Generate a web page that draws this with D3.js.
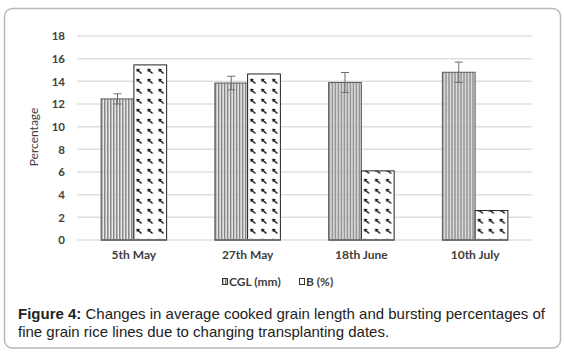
<!DOCTYPE html>
<html>
<head>
<meta charset="utf-8">
<script src="https://cdn.jsdelivr.net/npm/d3@7"></script>
<style>
    body { margin: 0; background: #fff; }
    #chart-area { width: 564px; height: 356px; }
</style>
</head>
<body>
<div id="chart-area"></div>
<script>

// data
let dates = ["5th May", "27th May", "18th June", "10th July"];
let seriesNames = ["CGL (mm)", "B (%)"];
let cglValues = [12.45, 13.85, 13.9, 14.8];
let cglErrors = [0.45, 0.6, 0.88, 0.9];
let bValues = [15.45, 14.65, 6.1, 2.6];
let yTicks = [0, 2, 4, 6, 8, 10, 12, 14, 16, 18];
let captionBold = "Figure 4:";
let captionLines = [
    " Changes in average cooked grain length and bursting percentages of",
    "fine grain rice lines due to changing transplanting dates."
];


class GroupedBarChart {

    constructor(parentElement) {
        this.parentElement = parentElement;
        this.initVis();
    }

    initVis() {
        let vis = this;

        vis.margin = {top: 36, right: 32, bottom: 116, left: 77};
        vis.width = 564 - vis.margin.left - vis.margin.right;
        vis.height = 356 - vis.margin.top - vis.margin.bottom;

        vis.root = d3.select("#" + vis.parentElement).append("svg")
            .attr("width", 564)
            .attr("height", 356);

        // frame round the figure
        vis.root.append("rect")
            .attr("x", 4.5).attr("y", 8.5)
            .attr("width", 556).attr("height", 339.5)
            .attr("rx", 8)
            .attr("fill", "none")
            .attr("stroke", "#b8b8b8")
            .attr("stroke-width", 1.5);

        // patterns
        let defs = vis.root.append("defs");
        let vert = defs.append("pattern")
            .attr("id", "vlines")
            .attr("patternUnits", "userSpaceOnUse")
            .attr("width", 3).attr("height", 3);
        vert.append("rect").attr("x", 0).attr("width", 1).attr("height", 3).attr("fill", "#7c7c7c");
        vert.append("rect").attr("x", 1).attr("width", 1).attr("height", 3).attr("fill", "#bdbdbd");
        vert.append("rect").attr("x", 2).attr("width", 1).attr("height", 3).attr("fill", "#e2e2e2").attr("opacity", 0.5);

        let arrows = defs.append("pattern")
            .attr("id", "arrows")
            .attr("patternUnits", "userSpaceOnUse")
            .attr("x", 2).attr("y", 2)
            .attr("width", 11).attr("height", 10);
        arrows.append("rect").attr("width", 11).attr("height", 10).attr("fill", "#fff");
        arrows.append("path")
            .attr("d", "M1.5,2 L5.5,5.5")
            .attr("stroke", "#111").attr("stroke-width", 1.4);
        arrows.append("path")
            .attr("d", "M0.3,0.8 L4,1 L0.8,4.3 Z")
            .attr("fill", "#111");

        vis.svg = vis.root.append("g")
            .attr("transform", "translate(" + vis.margin.left + "," + vis.margin.top + ")");

        vis.x0 = d3.scaleBand()
            .domain(dates)
            .range([0, vis.width])
            .paddingInner(0.424)
            .paddingOuter(0.212);

        vis.x1 = d3.scaleBand()
            .domain(seriesNames)
            .range([0, vis.x0.bandwidth()]);

        vis.y = d3.scaleLinear()
            .domain([0, 18])
            .range([vis.height, 0]);

        // gridlines
        vis.svg.append("g")
            .selectAll("line")
            .data(yTicks)
            .enter().append("line")
            .attr("x1", 0).attr("x2", vis.width)
            .attr("y1", d => vis.y(d)).attr("y2", d => vis.y(d))
            .attr("stroke", "#e0e0e0")
            .attr("stroke-width", 1.5);

        // y axis labels
        let yAxis = d3.axisLeft(vis.y).tickValues(yTicks).tickSize(0).tickPadding(12);
        vis.svg.append("g")
            .attr("class", "y-axis")
            .call(yAxis)
            .call(g => g.select(".domain").remove())
            .selectAll("text")
            .attr("font-family", "Lato, sans-serif")
            .attr("font-weight", "bold")
            .attr("font-size", 11.5)
            .attr("fill", "#404040");

        vis.svg.append("text")
            .attr("transform", "translate(-39," + (vis.height / 2 - 1) + ") rotate(-90)")
            .attr("text-anchor", "middle")
            .attr("font-family", "Lato, sans-serif")
            .attr("font-size", 12)
            .attr("fill", "#404040")
            .text("Percentage");

        // x axis labels
        let xAxis = d3.axisBottom(vis.x0).tickSize(0).tickPadding(10);
        vis.svg.append("g")
            .attr("transform", "translate(0," + vis.height + ")")
            .call(xAxis)
            .call(g => g.select(".domain").remove())
            .selectAll("text")
            .attr("font-family", "Lato, sans-serif")
            .attr("font-weight", "bold")
            .attr("font-size", 12)
            .attr("fill", "#404040");

        vis.updateVis();
    }

    updateVis() {
        let vis = this;

        let rows = dates.map((d, i) => ({
            date: d,
            bars: [
                {key: seriesNames[0], value: cglValues[i], err: cglErrors[i]},
                {key: seriesNames[1], value: bValues[i], err: null}
            ]
        }));

        let groups = vis.svg.append("g")
            .selectAll(".group")
            .data(rows)
            .enter().append("g")
            .attr("class", "group")
            .attr("transform", d => "translate(" + vis.x0(d.date) + ",0)");

        groups.selectAll("rect")
            .data(d => d.bars)
            .enter().append("rect")
            .attr("x", d => vis.x1(d.key))
            .attr("y", d => vis.y(d.value))
            .attr("width", vis.x1.bandwidth())
            .attr("height", d => vis.height - vis.y(d.value))
            .attr("fill", d => d.key === seriesNames[0] ? "url(#vlines)" : "url(#arrows)")
            .attr("stroke", d => d.key === seriesNames[0] ? "#5a5a5a" : "#222")
            .attr("stroke-width", 1);

        // bottom edge of each pair
        groups.append("line")
            .attr("x1", 0).attr("x2", vis.x0.bandwidth())
            .attr("y1", vis.height).attr("y2", vis.height)
            .attr("stroke", "#707070")
            .attr("stroke-width", 2);

        // error bars on CGL
        let errs = groups.selectAll(".err")
            .data(d => d.bars.filter(b => b.err !== null))
            .enter().append("g")
            .attr("class", "err")
            .attr("stroke", "#6e6e6e")
            .attr("stroke-width", 1);

        let cx = d => vis.x1(d.key) + vis.x1.bandwidth() / 2;
        errs.append("line")
            .attr("x1", cx).attr("x2", cx)
            .attr("y1", d => vis.y(d.value + d.err))
            .attr("y2", d => vis.y(d.value - d.err));
        errs.append("line")
            .attr("x1", d => cx(d) - 4).attr("x2", d => cx(d) + 4)
            .attr("y1", d => vis.y(d.value + d.err))
            .attr("y2", d => vis.y(d.value + d.err));
        errs.append("line")
            .attr("x1", d => cx(d) - 4).attr("x2", d => cx(d) + 4)
            .attr("y1", d => vis.y(d.value - d.err))
            .attr("y2", d => vis.y(d.value - d.err));

        // legend
        let legend = vis.root.append("g")
            .attr("transform", "translate(222,282)");
        let legendX = [0, 77];
        let items = legend.selectAll(".item")
            .data(seriesNames)
            .enter().append("g")
            .attr("class", "item")
            .attr("transform", (d, i) => "translate(" + legendX[i] + ",0)");
        items.append("rect")
            .attr("x", 0.5).attr("y", -3.5)
            .attr("width", 5).attr("height", 6)
            .attr("fill", (d, i) => i === 0 ? "url(#vlines)" : "#fff")
            .attr("stroke", "#333").attr("stroke-width", 1);
        items.append("text")
            .attr("x", 7).attr("y", 4)
            .attr("font-family", "Lato, sans-serif")
            .attr("font-weight", "bold")
            .attr("font-size", 12)
            .attr("fill", "#404040")
            .text(d => d);

        // caption
        let cap = vis.root.append("text")
            .attr("font-family", "'Liberation Sans', Arial, sans-serif")
            .attr("font-size", 15)
            .attr("fill", "#222");
        let line1 = cap.append("tspan").attr("x", 18).attr("y", 319);
        line1.append("tspan").attr("font-weight", "bold").text(captionBold);
        line1.append("tspan").text(captionLines[0]);
        cap.append("tspan").attr("x", 18).attr("y", 337).text(captionLines[1]);
    }
}

new GroupedBarChart("chart-area");
</script>
</body>
</html>
